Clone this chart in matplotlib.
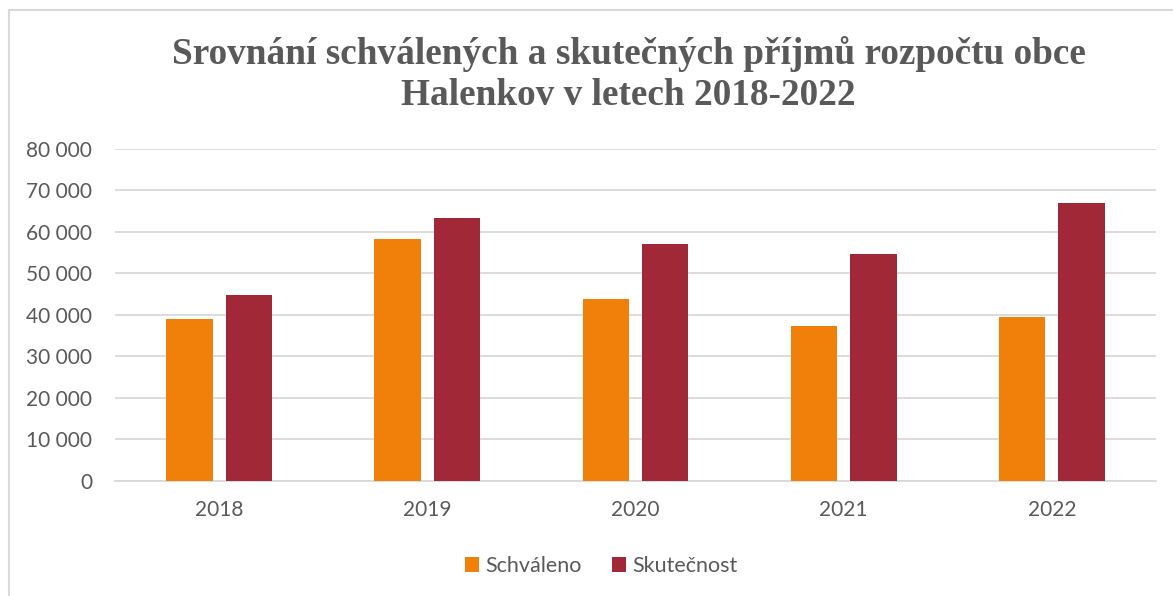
import matplotlib.pyplot as plt
import numpy as np
from matplotlib.patches import Rectangle
from matplotlib.ticker import FuncFormatter

# data
years = ["2018", "2019", "2020", "2021", "2022"]
schvaleno = [38900, 58200, 43800, 37200, 39500]
skutecnost = [44800, 63300, 57100, 54600, 67000]

orange = "#F08009"
red = "#A12837"
grey = "#595959"

fig = plt.figure(figsize=(11.73, 5.96), dpi=100)

# light frame round the chart area
fig.patches.append(Rectangle((9 / 1173, -0.1), 1.2, 1 - 10 / 596 + 0.1,
                             transform=fig.transFigure, fill=False,
                             edgecolor="#D9D9D9", linewidth=1.5))

ax = fig.add_axes([115 / 1173, 1 - 480.7 / 596, 1041 / 1173, 331.7 / 596])

x = np.arange(len(years))
w = 0.223
off = 0.1426
ax.bar(x - off, schvaleno, w, color=orange, label="Schváleno", zorder=3)
ax.bar(x + off, skutecnost, w, color=red, label="Skutečnost", zorder=3)

ax.set_xlim(-0.5, len(years) - 0.5)
ax.set_ylim(0, 80000)
ax.set_yticks(range(0, 80001, 10000))
ax.yaxis.set_major_formatter(FuncFormatter(lambda v, p: f"{int(v):,}".replace(",", " ")))
ax.set_xticks(x)
ax.set_xticklabels(years)

ax.grid(axis="y", color="#D9D9D9", linewidth=1.3, zorder=0)
for s in ["top", "right", "left"]:
    ax.spines[s].set_visible(False)
ax.spines["bottom"].set_color("#D9D9D9")
ax.spines["bottom"].set_linewidth(1.3)
ax.tick_params(axis="both", length=0, labelsize=15, labelcolor=grey)
ax.tick_params(axis="y", pad=16.5)
ax.tick_params(axis="x", pad=14)
for lab in ax.get_xticklabels() + ax.get_yticklabels():
    lab.set_family("Lato")

fig.text(0.536, 1 - 36.5 / 596, "Srovnání schválených a skutečných příjmů rozpočtu obce\nHalenkov v letech 2018-2022",
         ha="center", va="top", fontsize=26.8, fontweight="bold", color=grey,
         family="Liberation Serif", linespacing=1.22)

fig.legend(loc="center", bbox_to_anchor=(601 / 1173, 1 - 566 / 596), ncol=2,
           frameon=False, prop={"family": "Lato", "size": 15.5}, labelcolor=grey,
           handlelength=0.65, handleheight=0.65, handletextpad=0.3, columnspacing=1.4)

fig.savefig("out.png", dpi=100)
